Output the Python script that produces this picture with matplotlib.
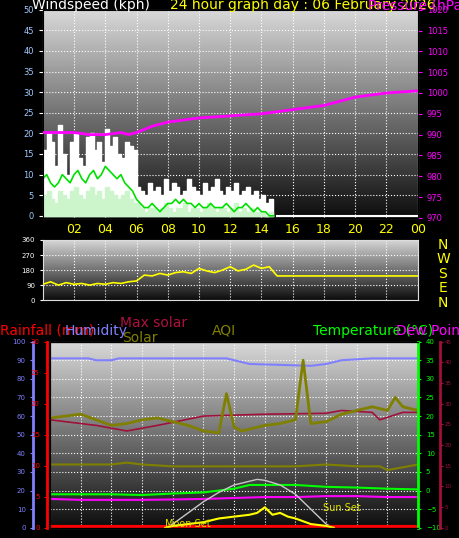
import numpy as np
import matplotlib
matplotlib.use("Agg")
import matplotlib.pyplot as plt

# ---------------- data ----------------
gust = [16,20,18,12,22,15,10,18,20,14,12,19,20,16,18,13,21,17,19,15,14,18,17,16,
        7,6,5,8,6,7,5,9,6,8,7,5,6,9,7,6,5,8,6,7,9,6,5,7,6,8,5,6,7,5,6,4,5,3,4,3]
avg = [9,10,8,7,8,10,9,8,10,11,9,8,10,11,9,10,12,11,10,9,10,8,7,6,
       4,3,2,2,3,2,1,2,3,3,4,3,4,3,3,2,3,2,2,3,2,2,2,3,2,1,2,2,3,2,1,2,1,1,0,0]
speed = [5,6,4,3,6,5,4,6,7,5,4,6,7,5,6,4,7,6,5,4,5,6,4,3,
         3,2,1,2,2,1,2,3,2,1,2,2,3,1,2,2,1,2,3,2,1,2,2,1,2,3,1,2,1,2,1,1,1,0,1,0]
wind_t = [i*0.25 for i in range(len(gust))]

press_t = [0,2,3,4,5,5.5,6,7,8,10,12,14,15,16,18,20,22,24]
press = [990.5,990.5,990,990,990.5,990,990.5,992,993,994,994.5,995,995.5,996,997,999,1000,1000.5]

dir_t = [0,0.5,1,1.5,2,2.5,3,3.5,4,4.5,5,5.5,6,6.5,7,7.5,8,8.5,9,9.5,10,10.5,11,11.5,12,12.5,13,13.5,14,14.5,15,16,24]
wdir = [95,110,90,105,95,100,90,100,95,105,100,110,115,150,145,160,150,165,170,160,190,175,165,180,200,175,185,210,190,200,145,145,145]

hum_t = [0,2.5,3,4,4.5,11.5,12,13,17,18,19,21,24]
hum = [91,91,90,90,91,91,90,88,87,88,90,91,91]

msol_t = [0,3,5,7,10,14,18,19,21,21.5,23,24]
msol = [58,55,52,55,60,61,61.5,63,62,58,62,62]

aqi_t = [0,1,2,3,4,5,6,7,8,9,10,11,11.5,12,12.5,13,14,15,16,16.5,17,18,19,20,21,22,22.5,23,24]
aqi = [59,60,61,58,55,56,58,59,57,55,52,51,72,54,52,53,55,56,58,90,56,57,61,63,65,63,70,65,63]

aqi2_t = [0,4,5,6,8,12,16,18,20,21.5,22,24]
aqi2 = [34,34,35,34,33,33,33,34,33,33,31,34]

temp_t = [0,4,6,8,10,12,13,16,18,20,22,24]
temp = [-1,-1,-1.2,-0.8,-0.5,0.5,1.5,1.5,1,0.8,0.5,0.3]

dew_t = [0,2,4,6,8,10,12,14,16,18,20,22,24]
dew = [15.5,15,15,15,15.2,15.5,16,16.5,16.5,17,17,16.5,16.5]

solar_t = [7.5,8,9,10,11,12,13,13.5,14,14.5,15,15.5,16,17,18,18.5]
solar = [0,1,2,3,5,6,7,8,11,7,8,6,5,2,1,0]

maxsol_t = [7.5,8,9,10,11,12,13,13.5,14,15,16,17,18,18.5]
maxsol = [0,2,8,14,19,23,25,26,25.5,23,18,10,2,0]

hours = [2,4,6,8,10,12,14,16,18,20,22,24]
hour_labels = ["02","04","06","08","10","12","14","16","18","20","22","00"]

# ---------------- figure ----------------
fig = plt.figure(figsize=(4.6, 5.38), dpi=100, facecolor="black")
grad = np.linspace(0.85, 0.05, 200).reshape(-1, 1)

def bg(ax):
    ax.imshow(grad, aspect="auto", cmap="gray", vmin=0, vmax=1,
              extent=[0, 24, *ax.get_ylim()], zorder=0)

def style(ax):
    ax.set_facecolor("black")
    for s in ax.spines.values():
        s.set_color("#dddddd")
    ax.grid(True, color="white", linestyle=":", linewidth=0.8, zorder=1)

# top panel
ax1 = fig.add_axes([0.093, 0.595, 0.815, 0.387])
ax1.set_xlim(0, 24); ax1.set_ylim(-0.5, 50)
bg(ax1); style(ax1)
ax1.fill_between(wind_t, gust, step="post", color="white", zorder=2)
ax1.fill_between(wind_t, speed, step="post", color="#ccf5cc", zorder=3)
ax1.plot(wind_t, avg, color="#00e000", lw=1.2, zorder=4)
ax1.plot([15, 24], [0, 0], color="white", lw=1.5, zorder=4)
ax1.set_yticks(range(0, 51, 5))
ax1.set_xticks(hours); ax1.set_xticklabels(hour_labels)
ax1.tick_params(axis="x", colors="yellow", labelsize=9, length=0, pad=4)
ax1.tick_params(axis="y", colors="white", labelsize=6, length=3)
for t in ax1.get_yticklabels(): t.set_color("#9fc8ff")
ax1b = ax1.twinx()
ax1b.set_ylim(970, 1020)
ax1b.plot(press_t, press, color="#ff00ff", lw=2, zorder=5)
ax1b.set_yticks(range(970, 1021, 5))
ax1b.tick_params(axis="y", colors="#ff00ff", labelsize=6, length=3)

# middle panel
ax2 = fig.add_axes([0.093, 0.442, 0.815, 0.112])
ax2.set_xlim(0, 24); ax2.set_ylim(0, 360)
bg(ax2); style(ax2)
ax2.plot(dir_t, wdir, color="yellow", lw=1.2, zorder=3)
ax2.set_yticks([0, 90, 180, 270, 360])
ax2.set_xticks(hours); ax2.set_xticklabels([])
ax2.tick_params(axis="x", length=0)
ax2.tick_params(axis="y", colors="white", labelsize=5, length=2)
for i, c in enumerate("NWSEN"):
    fig.text(0.963, 0.545 - i*0.027, c, color="yellow", fontsize=10, ha="center", va="center")

# bottom panel
ax3 = fig.add_axes([0.109, 0.019, 0.8, 0.346])
ax3.set_xlim(0, 24); ax3.set_ylim(0, 100)
bg(ax3); style(ax3)
ax3.plot(hum_t, hum, color="#8080ff", lw=1.5, zorder=3)
ax3.plot(msol_t, msol, color="#a0103a", lw=1.2, zorder=3)
ax3.plot(aqi_t, aqi, color="#808000", lw=2, zorder=4)
ax3.plot(aqi2_t, aqi2, color="#808000", lw=1.5, zorder=3)
ax3.plot(temp_t, [(v + 10) * 2 for v in temp], color="#00ff00", lw=1.5, zorder=3)
ax3.plot(dew_t, dew, color="#ff00ff", lw=1.5, zorder=3)
ax3.plot(maxsol_t, maxsol, color="#c8c8c8", lw=1, zorder=3)
ax3.plot(solar_t, solar, color="yellow", lw=1.5, zorder=5)
ax3.plot([0, 24], [0.5, 0.5], color="red", lw=3, zorder=4)
ax3.text(17.8, 9, "Sun Set", color="#e0e000", fontsize=7, zorder=6)
ax3.text(7.5, 0.5, "Moon Set", color="#e0e000", fontsize=7, zorder=6)
ax3.set_yticks(range(0, 101, 10))
ax3.set_xticks(range(0, 25, 2)); ax3.set_xticklabels([])
ax3.tick_params(axis="x", length=0)
ax3.tick_params(axis="y", colors="#8080ff", labelsize=5, length=2)
ax3.spines["left"].set_position(("outward", 12))
ax3.spines["left"].set_color("#8080ff"); ax3.spines["left"].set_linewidth(2)
axr = ax3.twinx(); axr.set_ylim(0, 30)
axr.yaxis.set_ticks_position("left"); axr.yaxis.set_label_position("left")
axr.spines["left"].set_position(("outward", 2)); axr.spines["left"].set_color("red")
axr.spines["left"].set_linewidth(2)
axr.set_yticks(range(0, 31, 5))
axr.tick_params(axis="y", colors="red", labelsize=5, length=2)
axt = ax3.twinx(); axt.set_ylim(-10, 40)
axt.spines["right"].set_color("#00ff00"); axt.spines["right"].set_linewidth(2)
axt.set_yticks(range(-10, 41, 5))
axt.tick_params(axis="y", colors="#00ff00", labelsize=5, length=2)
axm = ax3.twinx(); axm.set_ylim(0, 45)
axm.spines["right"].set_position(("outward", 16)); axm.spines["right"].set_color("#a0103a")
axm.spines["right"].set_linewidth(2)
axm.set_yticks(range(0, 46, 5))
axm.tick_params(axis="y", colors="#a0103a", labelsize=4, length=2, pad=1)

# titles
fig.text(0.07, 0.99, "Windspeed (kph)", color="white", fontsize=10, va="center")
fig.text(0.37, 0.99, "24 hour graph day : 06 February 2026", color="yellow", fontsize=10, va="center")
fig.text(0.80, 0.99, "Pressure (hPa)", color="#ff00ff", fontsize=10, va="center")
fig.text(0.0, 0.385, "Rainfall (mm)", color="red", fontsize=10, va="center")
fig.text(0.14, 0.385, "Humidity", color="#8080ff", fontsize=10, va="center")
fig.text(0.26, 0.4, "Max solar", color="#b01040", fontsize=10, va="center")
fig.text(0.265, 0.372, "Solar", color="#808000", fontsize=10, va="center")
fig.text(0.46, 0.385, "AQI", color="#808000", fontsize=10, va="center")
fig.text(0.68, 0.385, "Temperature (°C)", color="#00ff00", fontsize=10, va="center")
fig.text(0.86, 0.385, "Dew Point", color="#ff00ff", fontsize=10, va="center")

fig.savefig("out.png", dpi=100, facecolor="black")
